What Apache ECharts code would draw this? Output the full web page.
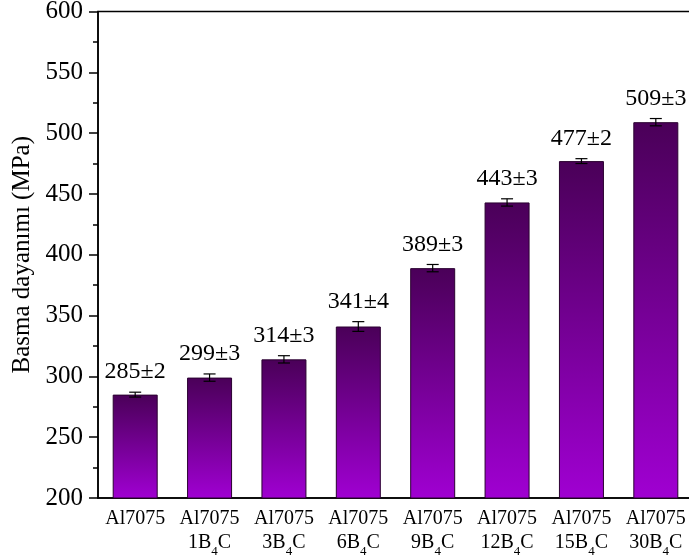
<!DOCTYPE html>
<html>
<head>
<meta charset="utf-8">
<script src="https://cdn.jsdelivr.net/npm/echarts@6/dist/echarts.min.js"></script>
<style>
  html, body { margin: 0; padding: 0; background: #fff; }
  #chart { width: 689px; height: 560px; }
</style>
</head>
<body>
<div id="chart"></div>
<script>
// Compressive strength of Al7075 and its B4C-reinforced composites
const alloy = 'Al7075';
const reinforcement = ['', '1', '3', '6', '9', '12', '15', '30'];   // wt.% B4C
const strength = [285, 299, 314, 341, 389, 443, 477, 509];           // MPa
const deviation = [2, 3, 3, 4, 3, 3, 2, 3];                          // ± MPa
const yTicks = [200, 250, 300, 350, 400, 450, 500, 550, 600];

const serif = '"Liberation Serif", "Times New Roman", serif';
const categories = reinforcement.map((r, i) => String(i));

const chart = echarts.init(document.getElementById('chart'));

chart.setOption({
  animation: false,
  backgroundColor: '#fff',
  grid: {
    left: 98, top: 11.5, width: 595, height: 486.5,
    containLabel: false,
    outerBoundsMode: 'none',
    show: true,
    borderColor: '#000',
    borderWidth: 1.5,
    backgroundColor: 'transparent'
  },
  xAxis: {
    type: 'category',
    data: categories,
    axisLine: { show: true, lineStyle: { color: '#000', width: 1.5 } },
    axisTick: { show: false },
    axisLabel: {
      interval: 0,
      margin: 9,
      fontFamily: serif,
      fontSize: 20,
      color: '#000',
      formatter: function (v) {
        const r = reinforcement[+v];
        if (!r) return '{n|' + alloy + '}';
        return '{n|' + alloy + '}\n{n|' + r + 'B}{s|4}{n|C}';
      },
      rich: {
        n: { fontFamily: serif, fontSize: 20, color: '#000', lineHeight: 24 },
        s: { fontFamily: serif, fontSize: 13, color: '#000', lineHeight: 13, verticalAlign: 'bottom', padding: [0, 0, -3, 0] }
      }
    }
  },
  yAxis: {
    type: 'value',
    min: yTicks[0],
    max: yTicks[yTicks.length - 1],
    interval: 50,
    name: 'Basma dayanımı (MPa)',
    nameLocation: 'middle',
    nameGap: 57,
    nameTextStyle: { fontFamily: serif, fontSize: 25, color: '#000' },
    axisLine: { show: true, lineStyle: { color: '#000', width: 1.5 } },
    axisTick: { show: true, inside: false, length: 9, lineStyle: { color: '#000', width: 1.5 } },
    minorTick: { show: true, splitNumber: 2, length: 5, lineStyle: { color: '#000', width: 1.5 } },
    splitLine: { show: false },
    axisLabel: { fontFamily: serif, fontSize: 25, color: '#000', margin: 15 }
  },
  series: [
    {
      type: 'bar',
      data: strength,
      barWidth: 45,
      itemStyle: {
        borderColor: '#2a0030',
        borderWidth: 1,
        color: new echarts.graphic.LinearGradient(0, 0, 0, 1, [
          { offset: 0, color: '#4a0058' },
          { offset: 1, color: '#a000d2' }
        ])
      },
      z: 2
    },
    {
      // error bars with the value ± deviation text above each one
      type: 'custom',
      z: 3,
      data: strength.map((v, i) => [i, v, deviation[i]]),
      renderItem: function (params, api) {
        const i = api.value(0);
        const v = api.value(1);
        const e = api.value(2);
        const hi = api.coord([i, v + e]);
        const lo = api.coord([i, v - e]);
        const cap = 6;
        const ls = { stroke: '#000', lineWidth: 1.2 };
        return {
          type: 'group',
          children: [
            { type: 'line', shape: { x1: hi[0], y1: hi[1], x2: lo[0], y2: lo[1] }, style: ls },
            { type: 'line', shape: { x1: hi[0] - cap, y1: hi[1], x2: hi[0] + cap, y2: hi[1] }, style: ls },
            { type: 'line', shape: { x1: lo[0] - cap, y1: lo[1], x2: lo[0] + cap, y2: lo[1] }, style: ls },
            {
              type: 'text',
              x: hi[0],
              y: hi[1] - 8,
              style: {
                text: v + '±' + e,
                fill: '#000',
                font: '24px ' + serif,
                align: 'center',
                verticalAlign: 'bottom'
              }
            }
          ]
        };
      }
    }
  ]
});
</script>
</body>
</html>
